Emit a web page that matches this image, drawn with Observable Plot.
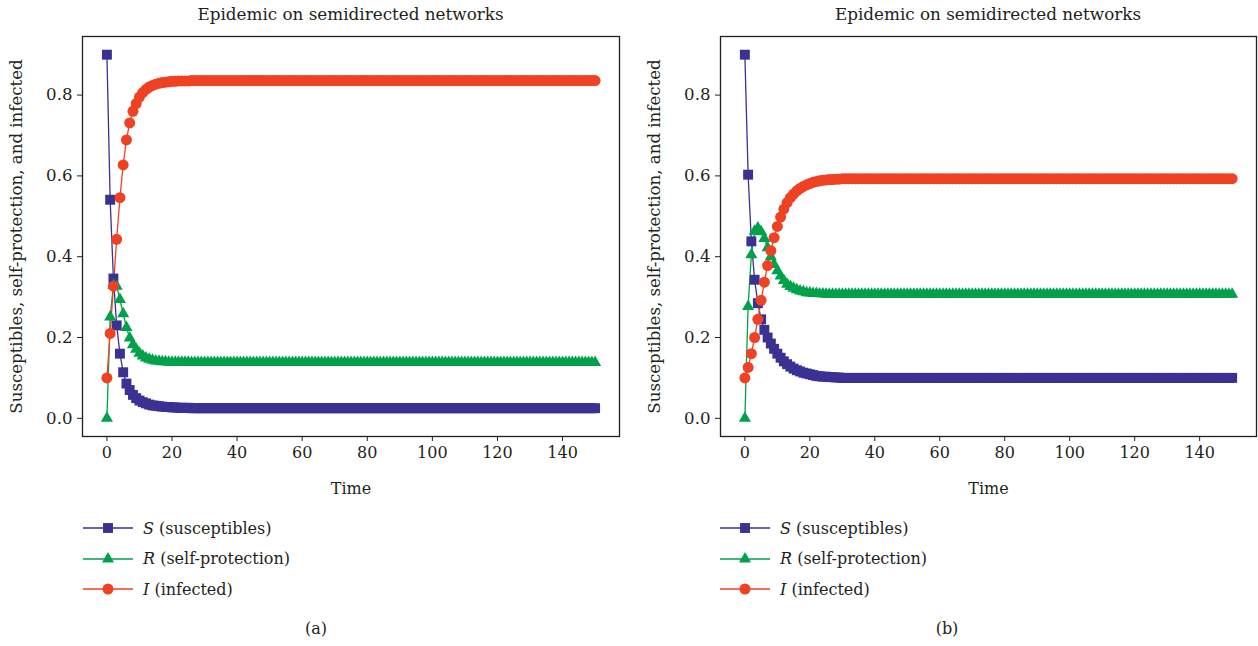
<!DOCTYPE html>
<html><head><meta charset="utf-8">
<script src="https://cdn.jsdelivr.net/npm/d3@7"></script>
<script src="https://cdn.jsdelivr.net/npm/@observablehq/plot@0.6"></script>
<style>
body{margin:0;background:#fff;}
#wrap{position:relative;width:1258px;height:646px;font-family:"DejaVu Serif",serif;color:#231f20;overflow:hidden;}
.panel{position:absolute;top:0;width:629px;height:646px;}
.title{position:absolute;top:4px;font-size:16.8px;white-space:nowrap;transform:translateX(-50%);}
.chart{position:absolute;top:0;left:0;}
.legend{position:absolute;top:0;left:0;font-size:16px;}
.row{position:absolute;display:flex;align-items:center;white-space:nowrap;height:30px;}
.row svg{margin-right:10px;}
.caption{position:absolute;top:619px;font-size:16px;transform:translateX(-50%);}
</style></head>
<body><div id="wrap"></div>
<script>
// ---- data ----
const panelTitles = ["Epidemic on semidirected networks","Epidemic on semidirected networks"];
const panelCaptions = ["(a)","(b)"];
const xTicks = [0,20,40,60,80,100,120,140];
const yTicks = [0,0.2,0.4,0.6,0.8];
const xLabel = "Time";
const yLabel = "Susceptibles, self-protection, and infected";
const seriesNames = [["S","(susceptibles)"],["R","(self-protection)"],["I","(infected)"]];

// Panel (a), t = 0..150
const S_a = [.900,.541,.346,.230,.160,.114,.086,.070,.058,.050,.044,.040,.037,.034,.032,.031,.030,.029,.028,.028,.027,.027,.026,.026,.026,.026,
 .025,.025,.025,.025,.025,.025,.025,.025,.025,.025,.025,.025,.025,.025,.025,.025,.025,.025,.025,.025,.025,.025,.025,.025,.025,
 .025,.025,.025,.025,.025,.025,.025,.025,.025,.025,.025,.025,.025,.025,.025,.025,.025,.025,.025,.025,.025,.025,.025,.025,.025,
 .025,.025,.025,.025,.025,.025,.025,.025,.025,.025,.025,.025,.025,.025,.025,.025,.025,.025,.025,.025,.025,.025,.025,.025,.025,
 .025,.025,.025,.025,.025,.025,.025,.025,.025,.025,.025,.025,.025,.025,.025,.025,.025,.025,.025,.025,.025,.025,.025,.025,.025,
 .025,.025,.025,.025,.025,.025,.025,.025,.025,.025,.025,.025,.025,.025,.025,.025,.025,.025,.025,.025,.025,.025,.025,.025,.025];
const R_a = [0,.251,.329,.327,.294,.259,.225,.199,.182,.171,.161,.154,.149,.146,.144,.142,.141,.140,.140,.139,.139,.139,.139,.139,.139,.139,
 .138,.138,.138,.138,.138,.138,.138,.138,.138,.138,.138,.138,.138,.138,.138,.138,.138,.138,.138,.138,.138,.138,.138,.138,.138,
 .138,.138,.138,.138,.138,.138,.138,.138,.138,.138,.138,.138,.138,.138,.138,.138,.138,.138,.138,.138,.138,.138,.138,.138,.138,
 .138,.138,.138,.138,.138,.138,.138,.138,.138,.138,.138,.138,.138,.138,.138,.138,.138,.138,.138,.138,.138,.138,.138,.138,.138,
 .138,.138,.138,.138,.138,.138,.138,.138,.138,.138,.138,.138,.138,.138,.138,.138,.138,.138,.138,.138,.138,.138,.138,.138,.138,
 .138,.138,.138,.138,.138,.138,.138,.138,.138,.138,.138,.138,.138,.138,.138,.138,.138,.138,.138,.138,.138,.138,.138,.138,.138];
const I_a = [.100,.210,.327,.443,.546,.627,.689,.731,.760,.779,.795,.806,.814,.820,.824,.827,.829,.831,.832,.833,.834,.834,.835,.835,.835,.835,
 .836,.836,.836,.836,.836,.836,.836,.836,.836,.836,.836,.836,.836,.836,.836,.836,.836,.836,.836,.836,.836,.836,.836,.836,.836,
 .836,.836,.836,.836,.836,.836,.836,.836,.836,.836,.836,.836,.836,.836,.836,.836,.836,.836,.836,.836,.836,.836,.836,.836,.836,
 .836,.836,.836,.836,.836,.836,.836,.836,.836,.836,.836,.836,.836,.836,.836,.836,.836,.836,.836,.836,.836,.836,.836,.836,.836,
 .836,.836,.836,.836,.836,.836,.836,.836,.836,.836,.836,.836,.836,.836,.836,.836,.836,.836,.836,.836,.836,.836,.836,.836,.836,
 .836,.836,.836,.836,.836,.836,.836,.836,.836,.836,.836,.836,.836,.836,.836,.836,.836,.836,.836,.836,.836,.836,.836,.836,.836];

// Panel (b), t = 0..150
const S_b = [.900,.603,.438,.343,.285,.245,.219,.200,.185,.172,.160,.150,.141,.134,.128,.123,.119,.116,.113,.111,.109,.107,.105,.104,.103,.103,
 .102,.102,.101,.101,.100,.100,.100,.100,.100,.100,.100,.100,.100,.100,.100,.100,.100,.100,.100,.100,.100,.100,.100,.100,.100,
 .100,.100,.100,.100,.100,.100,.100,.100,.100,.100,.100,.100,.100,.100,.100,.100,.100,.100,.100,.100,.100,.100,.100,.100,.100,
 .100,.100,.100,.100,.100,.100,.100,.100,.100,.100,.100,.100,.100,.100,.100,.100,.100,.100,.100,.100,.100,.100,.100,.100,.100,
 .100,.100,.100,.100,.100,.100,.100,.100,.100,.100,.100,.100,.100,.100,.100,.100,.100,.100,.100,.100,.100,.100,.100,.100,.100,
 .100,.100,.100,.100,.100,.100,.100,.100,.100,.100,.100,.100,.100,.100,.100,.100,.100,.100,.100,.100,.100,.100,.100,.100,.100];
const R_b = [0,.277,.405,.463,.471,.462,.445,.422,.400,.381,.365,.352,.341,.332,.326,.322,.318,.315,.313,.311,.310,.309,.309,.308,.308,.307,
 .307,.307,.307,.307,.307,.307,.307,.307,.307,.307,.307,.307,.307,.307,.307,.307,.307,.307,.307,.307,.307,.307,.307,.307,.307,
 .307,.307,.307,.307,.307,.307,.307,.307,.307,.307,.307,.307,.307,.307,.307,.307,.307,.307,.307,.307,.307,.307,.307,.307,.307,
 .307,.307,.307,.307,.307,.307,.307,.307,.307,.307,.307,.307,.307,.307,.307,.307,.307,.307,.307,.307,.307,.307,.307,.307,.307,
 .307,.307,.307,.307,.307,.307,.307,.307,.307,.307,.307,.307,.307,.307,.307,.307,.307,.307,.307,.307,.307,.307,.307,.307,.307,
 .307,.307,.307,.307,.307,.307,.307,.307,.307,.307,.307,.307,.307,.307,.307,.307,.307,.307,.307,.307,.307,.307,.307,.307,.307];
const I_b = [.100,.126,.160,.200,.245,.292,.337,.378,.415,.447,.475,.498,.518,.534,.546,.555,.563,.569,.574,.578,.581,.584,.586,.588,.589,.590,
 .591,.591,.592,.592,.593,.593,.593,.593,.593,.593,.593,.593,.593,.593,.593,.593,.593,.593,.593,.593,.593,.593,.593,.593,.593,
 .593,.593,.593,.593,.593,.593,.593,.593,.593,.593,.593,.593,.593,.593,.593,.593,.593,.593,.593,.593,.593,.593,.593,.593,.593,
 .593,.593,.593,.593,.593,.593,.593,.593,.593,.593,.593,.593,.593,.593,.593,.593,.593,.593,.593,.593,.593,.593,.593,.593,.593,
 .593,.593,.593,.593,.593,.593,.593,.593,.593,.593,.593,.593,.593,.593,.593,.593,.593,.593,.593,.593,.593,.593,.593,.593,.593,
 .593,.593,.593,.593,.593,.593,.593,.593,.593,.593,.593,.593,.593,.593,.593,.593,.593,.593,.593,.593,.593,.593,.593,.593,.593];

for (const a of [S_a,R_a,I_a,S_b,R_b,I_b]) if (a.length !== 151) throw new Error("bad length " + a.length);
const timeSteps = d3.range(151);

// ---- styling ----
const COLORS = {S:"#3b3192", R:"#00a14b", I:"#ef4123"};
const SYMBOLS = {S:"square", R:"triangle", I:"circle"};
const RADII = {S:5.6, R:4.5, I:5.5};
const FONT = '"DejaVu Serif",serif';
const INK = "#231f20";

const panels = [
  {left:0, ml:82, mr:10, data:{S:S_a,R:R_a,I:I_a}, legendX:83, captionX:316},
  {left:629, ml:91, mr:2, data:{S:S_b,R:R_b,I:I_b}, legendX:91, captionX:318}
];

const wrap = document.getElementById("wrap");
panels.forEach((p, k) => {
  const div = document.createElement("div");
  div.className = "panel";
  div.style.left = p.left + "px";
  wrap.appendChild(div);

  const marks = [
    Plot.frame({stroke:INK, strokeWidth:1.3}),
    Plot.axisX({ticks:xTicks, tickSize:5, tickPadding:5, tickFormat:d=>String(d), label:xLabel,
      labelAnchor:"center", labelArrow:"none", labelOffset:57, stroke:INK, fill:INK}),
    Plot.axisY({ticks:yTicks, tickSize:5, tickPadding:5, tickFormat:d3.format(".1f"), label:yLabel,
      labelAnchor:"center", labelArrow:"none", labelOffset:72, stroke:INK, fill:INK, fontSize:"16.6px"})
  ];
  for (const key of ["S","R","I"]) {
    const vals = p.data[key];
    marks.push(Plot.line(vals, {x:timeSteps, y:vals, stroke:COLORS[key], strokeWidth:1.3}));
  }
  for (const key of ["S","R","I"]) {
    const vals = p.data[key];
    marks.push(Plot.dot(vals, {x:timeSteps, y:vals, symbol:SYMBOLS[key], fill:COLORS[key], stroke:"none", r:RADII[key]}));
  }
  const chart = Plot.plot({
    width:629, height:520, marginLeft:p.ml, marginRight:p.mr, marginTop:36, marginBottom:84,
    x:{domain:[-7.5,157.5]}, y:{domain:[-0.045,0.945]},
    style:{fontFamily:FONT, fontSize:"16px", color:INK, background:"transparent", overflow:"visible"},
    marks
  });
  chart.classList.add("chart");
  div.appendChild(chart);

  const title = document.createElement("div");
  title.className = "title";
  title.textContent = panelTitles[k];
  title.style.left = ((p.ml + 629 - p.mr) / 2) + "px";
  div.appendChild(title);

  const legend = document.createElement("div");
  legend.className = "legend";
  seriesNames.forEach(([sym, rest], j) => {
    const key = ["S","R","I"][j];
    const row = document.createElement("div");
    row.className = "row";
    row.style.left = p.legendX + "px";
    row.style.top = (513 + j * 30.5) + "px";
    const s = d3.create("svg").attr("width", 50).attr("height", 16);
    s.append("line").attr("x1",0).attr("x2",50).attr("y1",8).attr("y2",8).attr("stroke",COLORS[key]).attr("stroke-width",1.3);
    const symType = key==="S" ? d3.symbolSquare : key==="R" ? d3.symbolTriangle : d3.symbolCircle;
    const rr = RADII[key];
    s.append("path").attr("d", d3.symbol(symType, Math.PI*rr*rr)()).attr("transform","translate(25,8)").attr("fill",COLORS[key]);
    row.appendChild(s.node());
    const t = document.createElement("span");
    t.innerHTML = "<i>" + sym + "</i>&nbsp;" + rest;
    row.appendChild(t);
    legend.appendChild(row);
  });
  div.appendChild(legend);

  const cap = document.createElement("div");
  cap.className = "caption";
  cap.textContent = panelCaptions[k];
  cap.style.left = p.captionX + "px";
  div.appendChild(cap);
});
</script>
</body></html>
